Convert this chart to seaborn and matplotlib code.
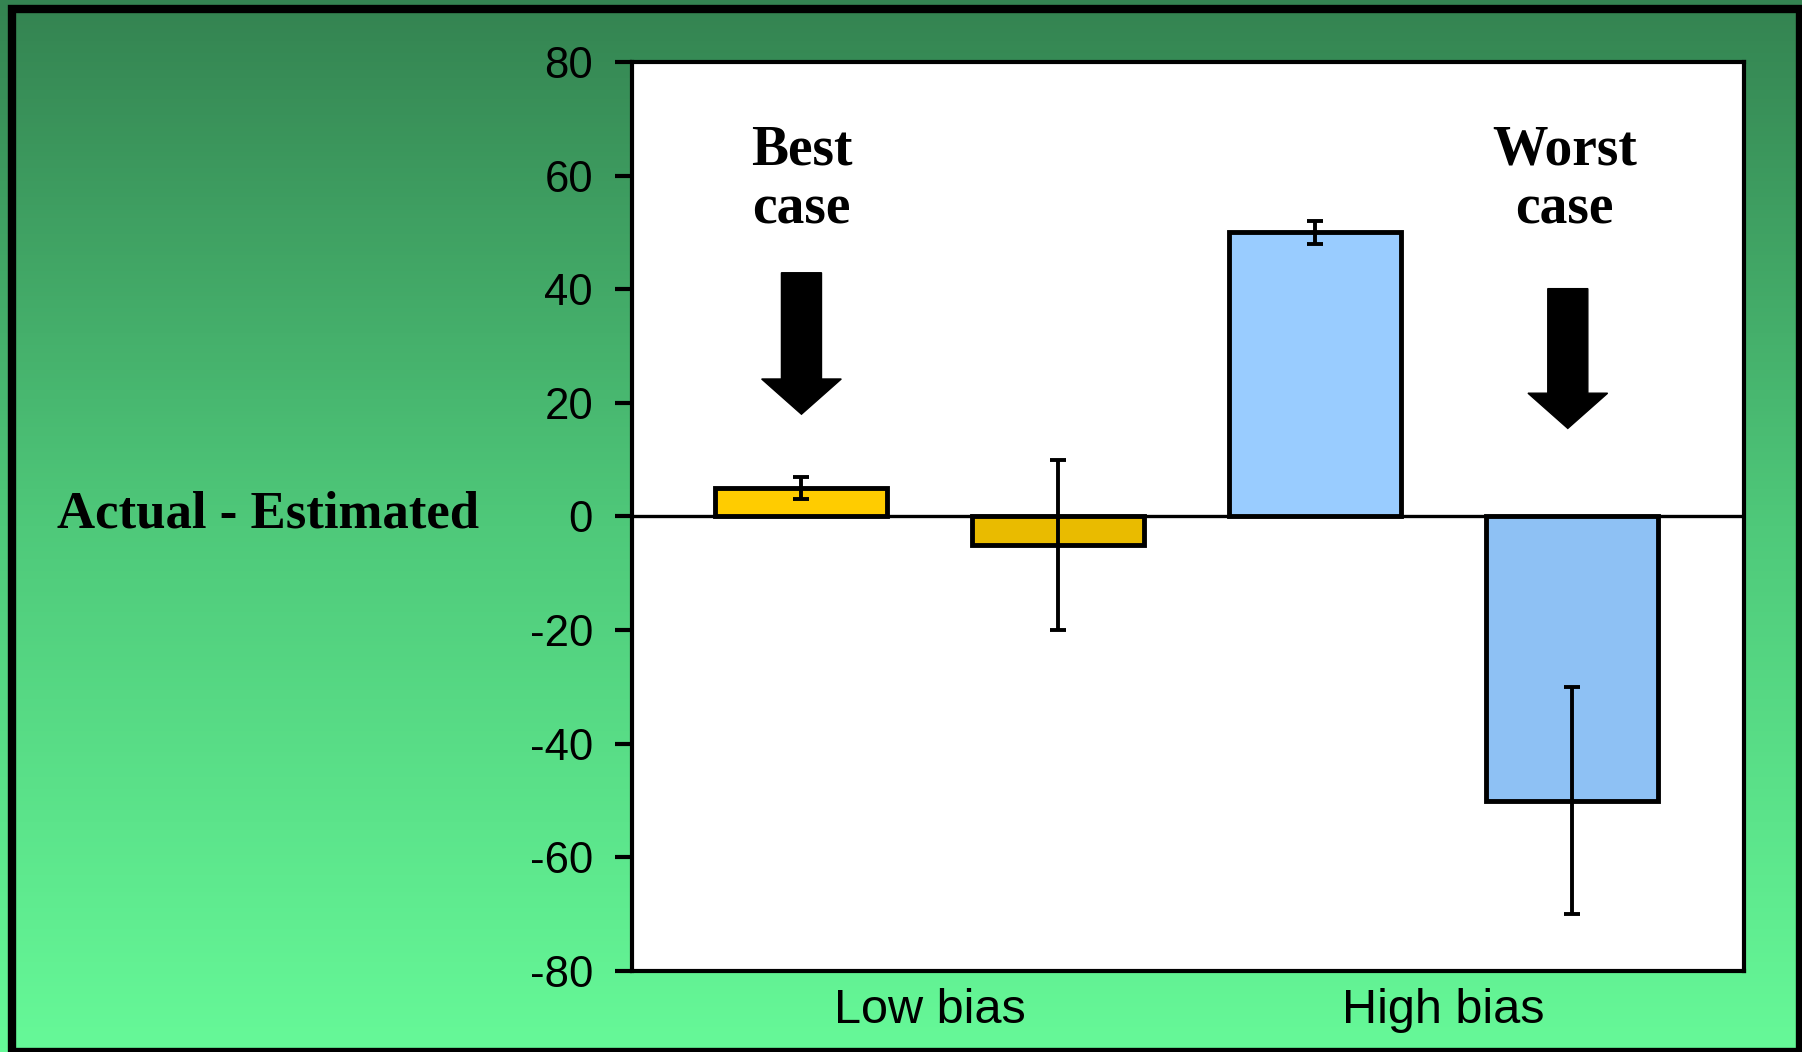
import numpy as np
import pandas as pd
import matplotlib
matplotlib.use("Agg")
import matplotlib.pyplot as plt
from matplotlib.patches import FancyArrow, Rectangle
from matplotlib.colors import LinearSegmentedColormap
import seaborn as sns

# ---- data ----
categories = ["Low bias", "High bias"]
series = ["A", "B"]
values_a = [5, 50]
values_b = [-5, -50]
errors_a = [2, 2]
errors_b = [15, 20]
bar_colors = ["#FFCC00", "#E9BB00", "#99CCFF", "#8EC1F4"]  # in x order
yticks = [-80, -60, -40, -20, 0, 20, 40, 60, 80]

df = pd.DataFrame({
    "bias": categories * 2,
    "series": [series[0]] * 2 + [series[1]] * 2,
    "diff": values_a + values_b,
    "err": errors_a + errors_b,
})

sns.set_style("ticks")
plt.rcParams["font.family"] = ["Liberation Sans", "DejaVu Sans"]
plt.rcParams["axes.unicode_minus"] = False
plt.rcParams["text.color"] = "black"
plt.rcParams["xtick.color"] = "black"
plt.rcParams["ytick.color"] = "black"
plt.rcParams["axes.labelcolor"] = "black"

fig = plt.figure(figsize=(18.02, 10.52), dpi=100)

# gradient background
bg = fig.add_axes([0, 0, 1, 1], zorder=-10)
cmap = LinearSegmentedColormap.from_list("g", ["#348351", "#4FC97A", "#66F998"])
grad = np.linspace(0, 1, 256).reshape(-1, 1)
bg.imshow(grad, aspect="auto", cmap=cmap, extent=[0, 1, 0, 1], origin="upper")
bg.set_xlim(0, 1)
bg.set_ylim(0, 1)
bg.set_axis_off()
bg.add_patch(Rectangle((0.0067, 0.0), 0.9922, 0.9914, transform=bg.transAxes,
                       fill=False, edgecolor="black", linewidth=6, clip_on=False))

ax = fig.add_axes([0.3507, 0.0770, 0.6171, 0.8641])
ax.set_facecolor("white")
ax.axhline(0, color="black", linewidth=2.4, zorder=1)
sns.barplot(data=df, x="bias", y="diff", hue="series", order=categories,
            hue_order=series, width=1.0, gap=0.33, errorbar=None,
            edgecolor="black", linewidth=3.5, legend=False, ax=ax, zorder=2)

patches = sorted([p for p in ax.patches if p.get_width() > 0], key=lambda p: p.get_x())
xs = [p.get_x() + p.get_width() / 2 for p in patches]
vals = [values_a[0], values_b[0], values_a[1], values_b[1]]
errs = [errors_a[0], errors_b[0], errors_a[1], errors_b[1]]
for p, c in zip(patches, bar_colors):
    p.set_facecolor(c)
ax.errorbar(xs, vals, yerr=errs, fmt="none", ecolor="black", elinewidth=2.8,
            capsize=6, capthick=2.8, zorder=3)

ax.set_ylim(-80, 80)
ax.set_yticks(yticks)
ax.set_xlim(-0.58, 1.585)
ax.set_xlabel("")
ax.set_ylabel("")
for s in ax.spines.values():
    s.set_visible(True)
    s.set_linewidth(3)
    s.set_color("black")
ax.tick_params(axis="y", length=12, width=3, pad=16, labelsize=31.5)
ax.tick_params(axis="x", length=0, pad=12, labelsize=35)

# arrows
for x, top, tip in [(xs[0], 42.9, 18.0), (xs[3] - 0.008, 40.1, 15.5)]:
    ax.add_patch(FancyArrow(x, top, 0, tip - top, width=0.078, head_width=0.155,
                            head_length=6.2, length_includes_head=True,
                            color="black", zorder=4))

serif = ["Liberation Serif", "DejaVu Serif"]
ax.text(xs[0], 62, "Best", ha="center", va="baseline", fontsize=40,
        fontweight="bold", family=serif)
ax.text(xs[0], 51.6, "case", ha="center", va="baseline", fontsize=40,
        fontweight="bold", family=serif)
ax.text(xs[3] - 0.015, 62, "Worst", ha="center", va="baseline", fontsize=40,
        fontweight="bold", family=serif)
ax.text(xs[3] - 0.015, 51.6, "case", ha="center", va="baseline", fontsize=40,
        fontweight="bold", family=serif)

fig.text(0.1487, 0.499, "Actual - Estimated", ha="center", va="baseline",
         fontsize=38, fontweight="bold", family=serif)

fig.savefig("out.png", dpi=100)
